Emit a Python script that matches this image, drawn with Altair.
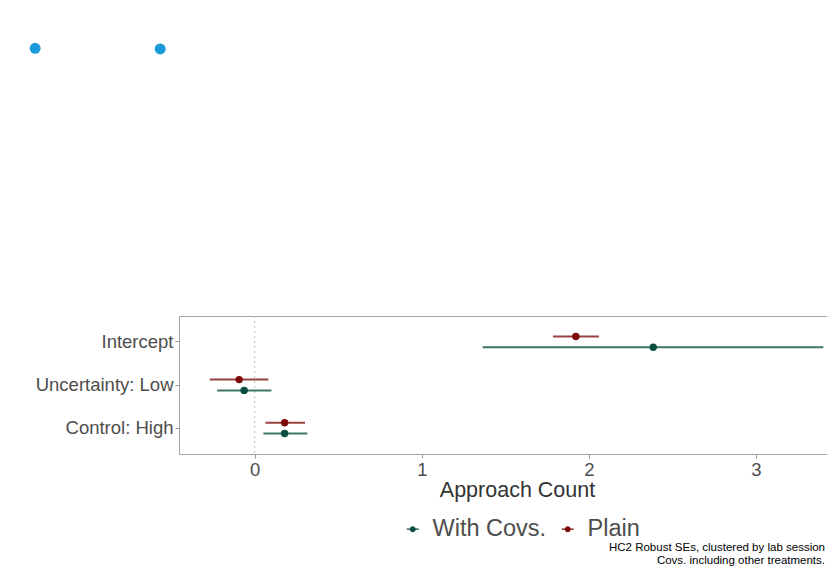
import altair as alt
import pandas as pd

# ---- data ----
terms = ["Intercept", "Uncertainty: Low", "Control: High"]
models = ["With Covs.", "Plain"]

est_covs = [2.385, -0.063, 0.179]
lo_covs = [1.364, -0.225, 0.052]
hi_covs = [3.403, 0.100, 0.315]

est_plain = [1.922, -0.093, 0.179]
lo_plain = [1.785, -0.269, 0.064]
hi_plain = [2.060, 0.082, 0.301]

x_ticks = [0, 1, 2, 3]
x_domain = [-0.453, 3.425]
zero_line = [0]

caption = ["HC2 Robust SEs, clustered by lab session",
           "Covs. including other treatments."]

# stray blue dots seen above the panel (relative units: panel = [0,1] x [0,1])
stray_x = [-0.222, -0.029]
stray_y = [2.94, 2.935]

green = "#0b4d3f"
red = "#7d0a0a"
BORDER = "#a6a6a6"
FONT = "Liberation Sans"

rows = []
for i, t in enumerate(terms):
    rows.append({"term": t, "model": "With Covs.", "est": est_covs[i], "lo": lo_covs[i], "hi": hi_covs[i]})
    rows.append({"term": t, "model": "Plain", "est": est_plain[i], "lo": lo_plain[i], "hi": hi_plain[i]})
df = pd.DataFrame(rows)

legend_symbol = ("M-1,-0.1H1V0.1H-1Z "
                 "M0.5,0A0.5,0.5 0 1,1 -0.5,0A0.5,0.5 0 1,1 0.5,0Z")

xscale = alt.Scale(domain=x_domain, nice=False, zero=False)

base = alt.Chart(df).encode(
    y=alt.Y("term:N", sort=terms,
            scale=alt.Scale(paddingInner=0, paddingOuter=0.1),
            axis=alt.Axis(title=None, labelFontSize=18.5, labelColor="#4d4d4d",
                          labelFont=FONT, tickColor="#999999", tickSize=4,
                          labelPadding=2, domain=True, domainColor=BORDER,
                          domainWidth=1, grid=False)),
    yOffset=alt.YOffset("model:N", sort=["Plain", "With Covs."],
                        scale=alt.Scale(paddingInner=0, paddingOuter=1)),
    color=alt.Color("model:N",
                    scale=alt.Scale(domain=models, range=[green, red]),
                    legend=alt.Legend(orient="none", legendX=222, legendY=201,
                                      direction="horizontal", title=None,
                                      symbolType=legend_symbol, symbolSize=144,
                                      symbolStrokeWidth=0, symbolOpacity=1,
                                      labelFontSize=23.5, labelColor="#4d4d4d",
                                      labelFont=FONT, labelOffset=8,
                                      columnPadding=9, padding=0)),
)

zero = alt.Chart(pd.DataFrame({"z": zero_line})).mark_rule(
    strokeDash=[2, 3], color="#c0c0c0", strokeWidth=1
).encode(x=alt.X("z:Q", scale=xscale))

rules = base.mark_rule(strokeWidth=2, opacity=0.78).encode(
    x=alt.X("lo:Q", scale=xscale,
            axis=alt.Axis(values=x_ticks, format="d", title="Approach Count",
                          titleFontSize=21.5, titleColor="#333333", titleFont=FONT,
                          titleFontWeight="normal", titlePadding=1,
                          titleX=338, titleAlign="center",
                          labelFontSize=18.5, labelColor="#4d4d4d",
                          labelFont=FONT, tickColor="#999999", tickSize=4,
                          labelPadding=2, domain=True, domainColor=BORDER,
                          domainWidth=1, grid=False)),
    x2="hi:Q",
)
points = base.mark_circle(size=55, opacity=1).encode(x=alt.X("est:Q", scale=xscale))

# stray dots layer; its top axis draws only the panel's upper border line
stray = alt.Chart(pd.DataFrame({"sx": stray_x, "sy": stray_y})).mark_circle(
    size=120, opacity=1, color="#1b9ad9", clip=False
).encode(
    x=alt.X("sx:Q", scale=alt.Scale(domain=[0, 1], nice=False, zero=False),
            axis=alt.Axis(orient="top", labels=False, ticks=False, grid=False,
                          title=None, domain=True, domainColor=BORDER, domainWidth=1)),
    y=alt.Y("sy:Q", scale=alt.Scale(domain=[0, 1], nice=False, zero=False), axis=None),
)

main = alt.layer(zero, rules, points)

chart = alt.layer(main, stray).resolve_scale(
    x="independent", y="independent"
).properties(
    width=648, height=138,
    autosize=alt.AutoSizeParams(type="none"),
    padding={"left": 171, "top": 308, "right": 0, "bottom": 115},
    title=alt.TitleParams(text=caption, orient="bottom", anchor="end", frame="group",
                          fontSize=11.5, font=FONT, fontWeight="normal", color="#000000",
                          lineHeight=12.5, offset=1, dx=-2),
).configure_view(
    stroke=None
)

chart.save("out.html", embed_options={"renderer": "svg", "actions": False})
